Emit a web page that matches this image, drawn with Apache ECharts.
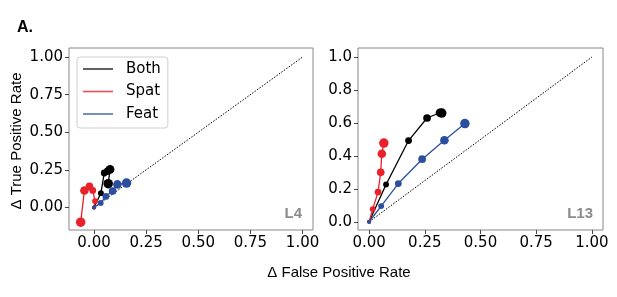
<!DOCTYPE html>
<html>
<head>
<meta charset="utf-8">
<script src="https://cdn.jsdelivr.net/npm/echarts@6/dist/echarts.min.js"></script>
<style>
  html, body { margin: 0; padding: 0; background: #fff; }
  #chart { width: 617px; height: 297px; }
</style>
</head>
<body>
<div id="chart"></div>
<script>
// L4 panel (left)
const l4Both = [[0, 0], [0.033, 0.095], [0.049, 0.229], [0.066, 0.242], [0.077, 0.253], [0.068, 0.158]];
const l4Spat = [[0, 0], [0.005, 0.042], [-0.006, 0.113], [-0.022, 0.14], [-0.046, 0.113], [-0.064, -0.098]];
const l4Feat = [[0, 0], [0.032, 0.03], [0.057, 0.073], [0.089, 0.109], [0.112, 0.153], [0.156, 0.162]];

// L13 panel (right)
const l13Both = [[0, 0], [0.076, 0.226], [0.177, 0.493], [0.26, 0.63], [0.318, 0.662], [0.326, 0.66]];
const l13Spat = [[0, 0], [0.016, 0.077], [0.04, 0.18], [0.052, 0.3], [0.057, 0.413], [0.066, 0.478]];
const l13Feat = [[0, 0], [0.054, 0.095], [0.131, 0.232], [0.238, 0.38], [0.338, 0.495], [0.43, 0.596]];

const diagonal = [[0, 0], [1, 1]];

const l4Ticks = [0, 0.25, 0.5, 0.75, 1];
const l13YTicks = [0, 0.2, 0.4, 0.6, 0.8, 1];

const BLACK = "#000000";
const RED = "#e8222b";
const BLUE = "#2b4f9e";
const TICK_FONT = "DejaVu Sans";
const TITLE_FONT = "Liberation Sans";

const chart = echarts.init(document.getElementById("chart"));

// 点越往后越大
const markerSize = (v, p) => (p.dataIndex === 0 ? 4 : 5 + p.dataIndex * 0.9);

const makeSeries = (name, data, color, idx) => ({
  name: name,
  type: "line",
  data: data,
  xAxisIndex: idx,
  yAxisIndex: idx,
  symbol: "circle",
  symbolSize: markerSize,
  itemStyle: { color: color },
  lineStyle: { color: color, width: 1.3 },
  emphasis: { disabled: true },
  z: 3,
});

const makeDiag = (idx) => ({
  type: "line",
  data: diagonal,
  xAxisIndex: idx,
  yAxisIndex: idx,
  symbol: "none",
  lineStyle: { color: "#000", width: 1, type: [1.5, 1.5] },
  silent: true,
  z: 2,
});

const axisCommon = (min, max, ticks, digits) => ({
  type: "value",
  min: min,
  max: max,
  splitLine: { show: false },
  axisLine: { show: false, onZero: false },
  axisTick: {
    show: true,
    length: 4,
    customValues: ticks,
    lineStyle: { color: "#444" },
  },
  axisLabel: {
    customValues: ticks,
    formatter: (v) => v.toFixed(digits),
    fontFamily: TICK_FONT,
    fontSize: 15,
    color: "#000",
    margin: 6,
  },
});

const option = {
  animation: false,
  textStyle: { fontFamily: TICK_FONT },
  grid: [
    { left: 69, top: 48, width: 244, height: 182, show: true, borderColor: "#888", borderWidth: 1, backgroundColor: "transparent" },
    { left: 358, top: 48, width: 245, height: 182, show: true, borderColor: "#888", borderWidth: 1, backgroundColor: "transparent" },
  ],
  xAxis: [
    Object.assign(axisCommon(-0.12, 1.05, l4Ticks, 2), { gridIndex: 0 }),
    Object.assign(axisCommon(-0.05, 1.05, l4Ticks, 2), { gridIndex: 1 }),
  ],
  yAxis: [
    Object.assign(axisCommon(-0.15, 1.06, l4Ticks, 2), { gridIndex: 0 }),
    Object.assign(axisCommon(-0.05, 1.055, l13YTicks, 1), { gridIndex: 1 }),
  ],
  legend: {
    left: 77,
    top: 57,
    orient: "vertical",
    data: [
      { name: "Both", itemStyle: { color: "#3a3a3a" } },
      { name: "Spat", itemStyle: { color: "#e5505a" } },
      { name: "Feat", itemStyle: { color: "#5474b0" } },
    ],
    icon: "rect",
    itemWidth: 30,
    itemHeight: 1.6,
    itemGap: 6.5,
    padding: [4, 7, 6, 6],
    borderColor: "#cfcfcf",
    borderWidth: 1,
    borderRadius: 3,
    textStyle: { fontFamily: TICK_FONT, fontSize: 15, lineHeight: 16, color: "#000", padding: [0, 0, 0, 8] },
    selectedMode: false,
  },
  graphic: [
    { type: "text", x: 17, y: 28, style: { text: "A.", font: "bold 16px Liberation Sans", fill: "#000", verticalAlign: "middle" } },
    { type: "text", x: 17, y: 141, rotation: Math.PI / 2, style: { text: "Δ True Positive Rate", font: "15px " + TITLE_FONT, fill: "#000", align: "center", verticalAlign: "middle" } },
    { type: "text", x: 339, y: 273, style: { text: "Δ False Positive Rate", font: "15px " + TITLE_FONT, fill: "#000", align: "center", verticalAlign: "middle" } },
    { type: "text", x: 302, y: 214, style: { text: "L4", font: "bold 15px " + TITLE_FONT, fill: "#8c8c8c", align: "right", verticalAlign: "middle" } },
    { type: "text", x: 593, y: 214, style: { text: "L13", font: "bold 15px " + TITLE_FONT, fill: "#8c8c8c", align: "right", verticalAlign: "middle" } },
  ],
  series: [
    makeDiag(0),
    makeDiag(1),
    makeSeries("Both", l4Both, BLACK, 0),
    makeSeries("Spat", l4Spat, RED, 0),
    makeSeries("Feat", l4Feat, BLUE, 0),
    makeSeries("Both", l13Both, BLACK, 1),
    makeSeries("Spat", l13Spat, RED, 1),
    makeSeries("Feat", l13Feat, BLUE, 1),
  ],
};

chart.setOption(option);
</script>
</body>
</html>
